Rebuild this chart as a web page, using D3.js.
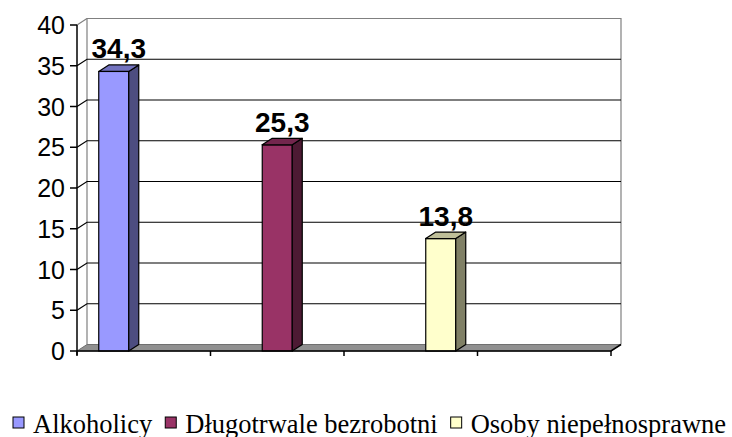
<!DOCTYPE html>
<html lang="pl">
<head>
<meta charset="utf-8">
<title>Wykres</title>
<script src="https://cdn.jsdelivr.net/npm/d3@7"></script>
<style>
  body { margin: 0; background: #fff; }
</style>
</head>
<body>
<script>
// data
var categories = ["k1", "k2", "k3", "k4"];   // kategorie bez opisów
var seriesNames = ["Alkoholicy", "Długotrwale bezrobotni", "Osoby niepełnosprawne"];
var alkoholicy = [34.3, null, null, null];
var dlugotrwaleBezrobotni = [null, 25.3, null, null];
var osobyNiepelnosprawne = [null, null, 13.8, null];
var yTicks = [0, 5, 10, 15, 20, 25, 30, 35, 40];

var seriesValues = [alkoholicy, dlugotrwaleBezrobotni, osobyNiepelnosprawne];
var colors = [
  { front: "#9999FF", side: "#4D4D80", top: "#7373BF" },
  { front: "#993366", side: "#4D1A33", top: "#73264D" },
  { front: "#FFFFCC", side: "#808066", top: "#BFBF99" }
];

var w = 732, h = 437;
var plotLeft = 77, plotRight = 611, plotBottom = 351, plotTop = 25;
var dx = 10, dy = -6.5;

var svg = d3.select("body").append("svg")
  .attr("width", w).attr("height", h);

var x0 = d3.scaleBand().domain(categories).range([plotLeft, plotRight]);
var x1 = d3.scaleBand().domain(d3.range(seriesNames.length))
  .range([0, x0.bandwidth()]).paddingInner(0).paddingOuter(0.725);
var y = d3.scaleLinear().domain([0, 40]).range([plotBottom, plotTop]);

// back wall
svg.append("path")
  .attr("d", "M" + (plotLeft + dx) + "," + (y(0) + dy) + "V" + (y(40) + dy) + "H" + (plotRight + dx) + "V" + (y(0) + dy))
  .attr("fill", "none").attr("stroke", "#808080").attr("stroke-width", 1.2);

// gridlines (side wall + back wall)
svg.selectAll(".grid")
  .data(yTicks.filter(function(t) { return t > 0 && t < 40; }))
  .enter().append("path")
  .attr("d", function(t) {
    return "M" + plotLeft + "," + y(t) + "L" + (plotLeft + dx) + "," + (y(t) + dy) + "H" + (plotRight + dx);
  })
  .attr("fill", "none").attr("stroke", "#000").attr("stroke-width", 1.2);

svg.append("line")
  .attr("x1", plotLeft).attr("y1", y(40)).attr("x2", plotLeft + dx).attr("y2", y(40) + dy)
  .attr("stroke", "#808080").attr("stroke-width", 1.2);

// floor
svg.append("path")
  .attr("d", "M" + plotLeft + "," + y(0) + "H" + plotRight + "L" + (plotRight + dx) + "," + (y(0) + dy) + "H" + (plotLeft + dx) + "Z")
  .attr("fill", "#909090").attr("stroke", "#707070").attr("stroke-width", 1);

// bars
var bars = [];
seriesValues.forEach(function(vals, s) {
  vals.forEach(function(v, i) {
    if (v != null) bars.push({ s: s, cat: categories[i], v: v });
  });
});

var g = svg.selectAll(".bar").data(bars).enter().append("g");

g.append("rect")
  .attr("x", function(d) { return x0(d.cat) + x1(d.s); })
  .attr("y", function(d) { return y(d.v); })
  .attr("width", x1.bandwidth())
  .attr("height", function(d) { return y(0) - y(d.v); })
  .attr("fill", function(d) { return colors[d.s].front; })
  .attr("stroke", "#000").attr("stroke-width", 1.2);

g.append("path")
  .attr("d", function(d) {
    var xr = x0(d.cat) + x1(d.s) + x1.bandwidth();
    return "M" + xr + "," + y(d.v) + "l" + dx + "," + dy + "V" + (y(0) + dy) + "L" + xr + "," + y(0) + "Z";
  })
  .attr("fill", function(d) { return colors[d.s].side; })
  .attr("stroke", "#000").attr("stroke-width", 1.2).attr("stroke-linejoin", "round");

g.append("path")
  .attr("d", function(d) {
    var xl = x0(d.cat) + x1(d.s);
    return "M" + xl + "," + y(d.v) + "l" + dx + "," + dy + "h" + x1.bandwidth() + "l" + (-dx) + "," + (-dy) + "Z";
  })
  .attr("fill", function(d) { return colors[d.s].top; })
  .attr("stroke", "#000").attr("stroke-width", 1.2).attr("stroke-linejoin", "round");

// value labels
g.append("text")
  .attr("x", function(d) { return x0(d.cat) + x1(d.s) + x1.bandwidth() / 2 + dx / 2; })
  .attr("y", function(d) { return y(d.v) - 13; })
  .attr("text-anchor", "middle")
  .attr("font-family", "Liberation Sans, Arial, sans-serif")
  .attr("font-weight", "bold")
  .attr("font-size", "28px")
  .text(function(d) { return d3.format(".1f")(d.v).replace(".", ","); });

// axes
svg.append("line")
  .attr("x1", plotLeft).attr("y1", y(40)).attr("x2", plotLeft).attr("y2", y(0) + 4)
  .attr("stroke", "#000").attr("stroke-width", 1.5);
svg.append("path")
  .attr("d", "M" + plotLeft + "," + y(0) + "H" + plotRight + "l" + dx + "," + dy)
  .attr("fill", "none").attr("stroke", "#000").attr("stroke-width", 1.5);

svg.selectAll(".ytick").data(yTicks).enter().append("line")
  .attr("x1", plotLeft - 7).attr("x2", plotLeft)
  .attr("y1", function(t) { return y(t); }).attr("y2", function(t) { return y(t); })
  .attr("stroke", "#000").attr("stroke-width", 1.5);

svg.selectAll(".xtick").data(categories.concat(["end"])).enter().append("line")
  .attr("x1", function(c, i) { return plotLeft + i * x0.bandwidth(); })
  .attr("x2", function(c, i) { return plotLeft + i * x0.bandwidth(); })
  .attr("y1", y(0)).attr("y2", y(0) + 5)
  .attr("stroke", "#000").attr("stroke-width", 1.5);

svg.selectAll(".ylabel").data(yTicks).enter().append("text")
  .attr("x", 65)
  .attr("y", function(t) { return y(t); })
  .attr("dy", "0.36em")
  .attr("text-anchor", "end")
  .attr("font-family", "Liberation Sans, Arial, sans-serif")
  .attr("font-size", "25px")
  .text(function(t) { return t; });

// legend
var legend = svg.append("g");
var lx = 13;
seriesNames.forEach(function(name, s) {
  legend.append("rect")
    .attr("x", lx).attr("y", 417).attr("width", 11).attr("height", 11)
    .attr("fill", colors[s].front).attr("stroke", "#000").attr("stroke-width", 1);
  var t = legend.append("text")
    .attr("x", lx + 20).attr("y", 433)
    .attr("font-family", "Liberation Serif, Times New Roman, serif")
    .attr("font-size", "26.5px")
    .text(name);
  lx += 20 + t.node().getComputedTextLength() + 13;
});
</script>
</body>
</html>
